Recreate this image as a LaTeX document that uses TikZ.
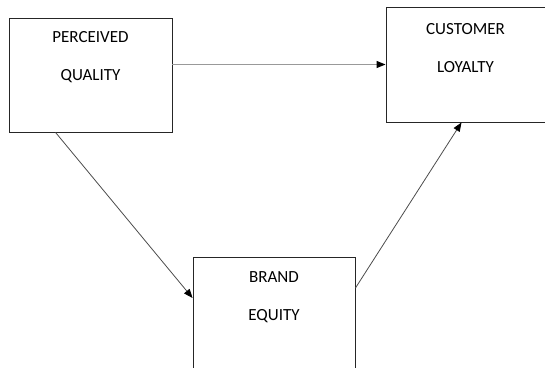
\documentclass[tikz,border=0pt]{standalone}
\usepackage{fontspec}
\setmainfont{Carlito}
\usetikzlibrary{arrows.meta}

\begin{document}
\begin{tikzpicture}[x=1pt,y=-1pt,
    box/.style={draw=black!85,line width=0.9pt,minimum width=163pt,minimum height=114pt,inner sep=0pt},
    lbl/.style={align=center,inner sep=0pt,font=\fontsize{17}{38}\selectfont},
    link/.style={draw=black!70,line width=0.8pt,-{Triangle[length=9pt,width=7pt,color=black]}}]
      \clip (0,0) rectangle (545,367);
      \node [box] (pq) at (90.5,75) {};
      \node [box,minimum width=159pt,minimum height=115pt] (cl) at (465.5,64.5) {};
      \node [box,minimum width=162pt] (be) at (274,314) {};
      \node [lbl] (pqt) at ([yshift=-40pt]pq.north) {PERCEIVED\\QUALITY};
      \node [lbl] (clt) at ([yshift=-41pt]cl.north) {CUSTOMER\\LOYALTY};
      \node [lbl] (bet) at ([yshift=-41pt]be.north) {BRAND\\EQUITY};
      \draw [link,draw=black!40,line width=1.1pt] (pq.east |- cl.west) to (cl.west);
      \draw [link] ([xshift=47pt]pq.south west) to ([yshift=16pt]be.west);
      \draw [link] ([yshift=26pt]be.east) to ([xshift=-4pt]cl.south);
      \end{tikzpicture}
\end{document}
